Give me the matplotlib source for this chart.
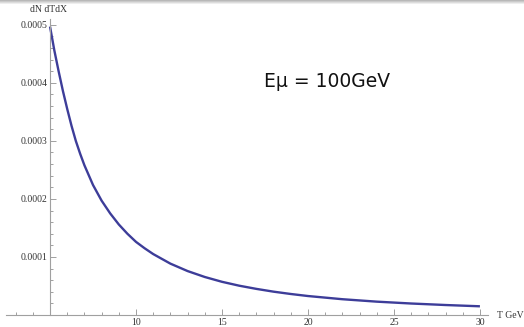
import numpy as np
import matplotlib.pyplot as plt
from matplotlib.ticker import FixedLocator, MultipleLocator

# values
T = [5.0, 5.25, 5.5, 5.75, 6.0, 6.25, 6.5, 6.75, 7.0, 7.5, 8.0, 8.5, 9.0, 9.5, 10.0,
     10.5, 11.0, 12.0, 13.0, 14.0, 15.0, 16.0, 17.0, 18.0, 19.0, 20.0,
     22.0, 24.0, 26.0, 28.0, 30.0]
dN = [0.000497, 0.000456, 0.000420, 0.000386, 0.000355, 0.000326, 0.000300,
      0.000278, 0.000258, 0.000224, 0.000197, 0.000175, 0.000156, 0.000140,
      0.000126, 0.000115, 0.000105, 0.0000885, 0.0000757, 0.0000655,
      0.0000572, 0.0000505, 0.0000450, 0.0000402, 0.0000362, 0.0000327,
      0.0000272, 0.0000230, 0.0000198, 0.0000172, 0.0000150]

x_ticks = [10, 15, 20, 25, 30]
y_ticks = [0.0001, 0.0002, 0.0003, 0.0004, 0.0005]
y_labels = ["0.0001", "0.0002", "0.0003", "0.0004", "0.0005"]

serif = "Liberation Serif"
axis_col = "#a0a0a0"

fig = plt.figure(figsize=(5.24, 3.27), dpi=100)

# faint shadow strip along the top edge of the screenshot
shade = fig.add_axes([0, 1 - 5 / 327, 1, 5 / 327])
shade.imshow(np.linspace(0.72, 1.0, 5).reshape(-1, 1), cmap="gray", vmin=0, vmax=1,
             aspect="auto", extent=[0, 1, 0, 1])
shade.set_axis_off()

ax = fig.add_axes([6 / 524, 12 / 327, 482 / 524, 296 / 327])

ax.plot(T, dN, color="#3d3d99", lw=1.7, solid_capstyle="butt")

ax.set_xlim(2.44, 30.47)
ax.set_ylim(0, 0.00051)

# Mathematica style axes crossing at (5, 0)
ax.spines["left"].set_position(("data", 5))
ax.spines["bottom"].set_position(("data", 0))
ax.spines["top"].set_visible(False)
ax.spines["right"].set_visible(False)
for s in ["left", "bottom"]:
    ax.spines[s].set_color(axis_col)
    ax.spines[s].set_linewidth(0.8)

ax.xaxis.set_major_locator(FixedLocator(x_ticks))
ax.xaxis.set_minor_locator(MultipleLocator(1))
ax.yaxis.set_major_locator(FixedLocator(y_ticks))
ax.yaxis.set_minor_locator(MultipleLocator(0.00002))
ax.set_yticklabels(y_labels)

ax.tick_params(which="both", direction="in", color=axis_col, width=0.7,
               labelsize=7, pad=2)
ax.tick_params(which="major", length=4)
ax.tick_params(which="minor", length=2.3)
for lab in ax.get_xticklabels() + ax.get_yticklabels():
    lab.set_family(serif)
    lab.set_color("#333333")

fig.text(48 / 524, 1 - 10 / 327, "dN dTdX", family=serif, fontsize=7,
         ha="center", va="center", color="#333333")
fig.text(510 / 524, 1 - 315 / 327, "T GeV", family=serif, fontsize=7,
         ha="center", va="center", color="#333333")

ax.text(21.1, 0.000403, "E\u03bc = 100GeV", fontsize=13.5, ha="center",
        va="center", family="DejaVu Sans", color="#111111")

fig.savefig("out.png", dpi=100)
